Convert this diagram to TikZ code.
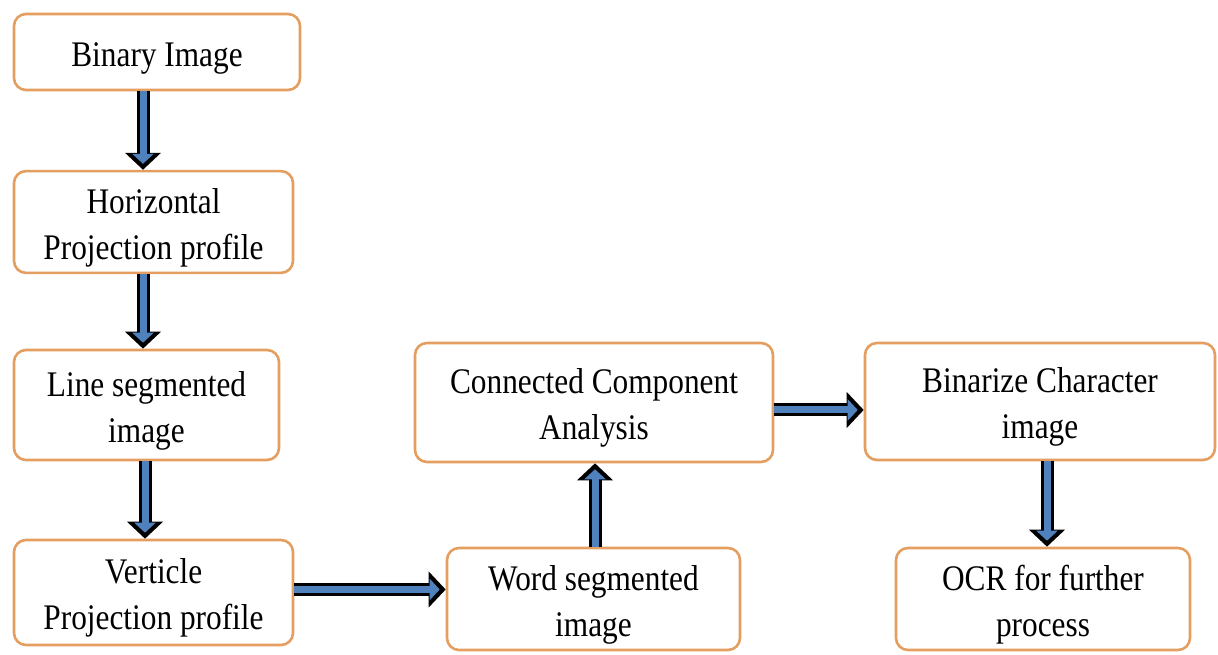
\documentclass[tikz,border=0pt]{standalone}
\usepackage{fontspec}
\setmainfont{Liberation Serif}[FakeStretch=0.87]
\usetikzlibrary{positioning, arrows.meta, calc}

\definecolor{boxedge}{RGB}{228,158,96}
\definecolor{flowblue}{RGB}{79,129,189}

% text block, set a little below the box centre
\newcommand{\steptext}[1]{\begin{tabular}{@{}c@{}}\rule{0pt}{42pt}#1\end{tabular}}

\tikzset{
    stepbox/.style={draw=boxedge, line width=2.6pt, rounded corners=12pt, fill=white,
        font=\fontsize{36}{46}\selectfont, inner sep=0pt},
    flow/.style={draw=black, line width=13pt, -{Triangle[length=17pt, width=35pt]},
        postaction={draw=flowblue, line width=7pt, shorten >=6pt, -{Triangle[length=10pt, width=21pt]}}}
}

\begin{document}
\begin{tikzpicture}[x=1pt, y=1pt]
    \useasboundingbox (0,0) rectangle (1218,655);

    % left column
    \node[stepbox, minimum width=286pt, minimum height=76pt] (bin) at (157,603) {\steptext{Binary Image}};
    \node[stepbox, minimum width=279pt, minimum height=100pt] (hor) at (153.5,433) {\steptext{Horizontal\\Projection profile}};
    \node[stepbox, minimum width=265pt, minimum height=110pt] (lin) at (146.5,250) {\steptext{Line segmented\\image}};
    \node[stepbox, minimum width=279pt, minimum height=105pt] (ver) at (153.5,62.5) {\steptext{Verticle\\Projection profile}};

    % middle column
    \node[stepbox, minimum width=293pt, minimum height=102pt] (wrd) at (593.5,56) {\steptext{Word segmented\\image}};
    \node[stepbox, minimum width=358pt, minimum height=119pt] (cca) at (594,252.5) {\steptext{Connected Component\\Analysis}};

    % right column
    \node[stepbox, minimum width=350pt, minimum height=117pt] (chr) at (1040,253.5) {\steptext{Binarize Character\\image}};
    \node[stepbox, minimum width=294pt, minimum height=102pt] (ocr) at (1043,56) {\steptext{OCR for further\\process}};

    % arrows
    \draw[flow] ([xshift=-14pt]bin.south) -- ([xshift=-10.5pt]hor.north);
    \draw[flow] ([xshift=-10.5pt]hor.south) -- ([xshift=-3.5pt]lin.north);
    \draw[flow] ([xshift=-1.5pt]lin.south) -- ([xshift=-8.5pt]ver.north);
    \draw[flow] ([yshift=3pt]ver.east) -- ([yshift=3pt]ver.east -| wrd.west);
    \draw[flow] ([xshift=1.5pt]wrd.north) -- ([xshift=1pt]cca.south);
    \draw[flow] ([yshift=-7.5pt]cca.east) -- ([yshift=-7.5pt]cca.east -| chr.west);
    \draw[flow] ([xshift=7pt]chr.south) -- ([xshift=4pt]ocr.north);

\end{tikzpicture}
\end{document}
